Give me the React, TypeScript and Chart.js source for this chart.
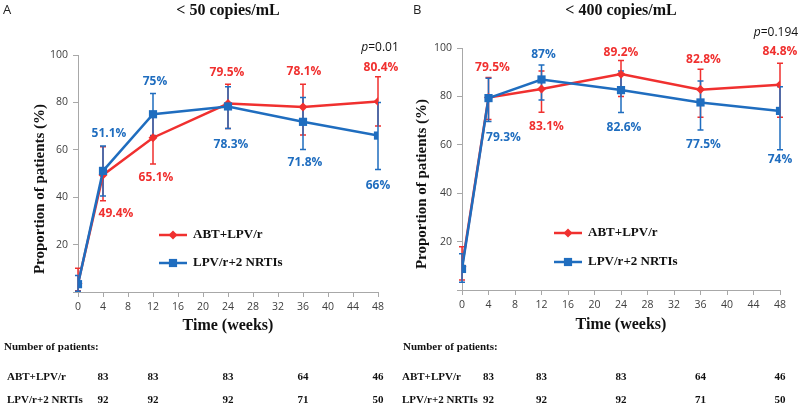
import React, { useEffect, useRef } from 'react';
import { Chart, registerables } from 'chart.js';

Chart.register(...registerables);

// ---------------- data ----------------
const weeks = [0, 4, 12, 24, 36, 48];
const seriesNames = ['ABT+LPV/r', 'LPV/r+2 NRTIs'];
const yTickValues = [0, 20, 40, 60, 80, 100];

// Panel A: < 50 copies/mL
const a50Abt = [3.6, 49.4, 65.1, 79.5, 78.1, 80.4];
const a50AbtLow = [0.5, 38.5, 54, 69, 66.2, 70];
const a50AbtHigh = [10, 61.3, 76, 87.7, 87.7, 90.8];
const a50Lpv = [3.3, 51.1, 75, 78.3, 71.8, 66];
const a50LpvLow = [0.3, 40.5, 66, 69, 60.1, 51.7];
const a50LpvHigh = [7, 61.6, 83.8, 86.6, 82.1, 80];

// Panel B: < 400 copies/mL
const b400Abt = [9.6, 79.5, 83.1, 89.2, 82.8, 84.8];
const b400AbtLow = [4.1, 70.5, 73.4, 80, 71.4, 71.4];
const b400AbtHigh = [17.9, 87.8, 90.5, 94.8, 91.2, 93.7];
const b400Lpv = [8.7, 79.3, 87, 82.6, 77.5, 74];
const b400LpvLow = [3.2, 69.6, 78.5, 73.3, 66.1, 58];
const b400LpvHigh = [15, 87.5, 93, 90.5, 86.4, 84];

// Number of patients table
const tableWeeks = [4, 12, 24, 36, 48];
const nAbt = [83, 83, 83, 64, 46];
const nLpv = [92, 92, 92, 71, 50];

// ---------------- styles ----------------
const RED = '#f0302f';
const BLUE = '#1f6dbf';
const AXIS = '#a8a8a8';
const TICK_TEXT = '#404040';
const SERIF = '"Liberation Serif", "Times New Roman", serif';
const SANS = '"Open Sans", "Liberation Sans", sans-serif';

type Off = [number, number];
interface PanelSpec {
  offset: number;
  letter: string;
  letterX: number;
  title: string;
  pText: string;
  pX: number;
  pY: number;
  left: number;
  top: number;
  right: number;
  bottom: number;
  yTitleX: number;
  yTitleY: number;
  xTitleY: number;
  legendX1: number;
  legendX2: number;
  legendTextX: number;
  legendY: [number, number];
  tableHeaderX: number;
  tableRowX: number;
  tableY: [number, number, number];
  values: [number[], number[]];
  lows: [number[], number[]];
  highs: [number[], number[]];
  labelOffsets: [Off[], Off[]];
}

const panelA: PanelSpec = {
  offset: 0,
  letter: 'A',
  letterX: 3,
  title: '< 50 copies/mL',
  pText: '0.01',
  pX: 380,
  pY: 48,
  left: 78,
  top: 55,
  right: 378,
  bottom: 292,
  yTitleX: 40,
  yTitleY: 189,
  xTitleY: 326,
  legendX1: 159,
  legendX2: 187,
  legendTextX: 193,
  legendY: [235, 263],
  tableHeaderX: 4,
  tableRowX: 7,
  tableY: [347, 377, 400],
  values: [a50Abt, a50Lpv],
  lows: [a50AbtLow, a50LpvLow],
  highs: [a50AbtHigh, a50LpvHigh],
  labelOffsets: [
    [[0, 0], [13, 39], [3, 40], [-1, -31], [1, -35], [3, -34]],
    [[0, 0], [6, -37], [2, -33], [3, 38], [2, 41], [0, 50]],
  ],
};

const panelB: PanelSpec = {
  offset: 400,
  letter: 'B',
  letterX: 13,
  title: '< 400 copies/mL',
  pText: '0.194',
  pX: 376,
  pY: 33,
  left: 62,
  top: 48,
  right: 380,
  bottom: 290,
  yTitleX: 22,
  yTitleY: 184,
  xTitleY: 325,
  legendX1: 154,
  legendX2: 182,
  legendTextX: 188,
  legendY: [233, 262],
  tableHeaderX: 3,
  tableRowX: 2,
  tableY: [347, 377, 400],
  values: [b400Abt, b400Lpv],
  lows: [b400AbtLow, b400LpvLow],
  highs: [b400AbtHigh, b400LpvHigh],
  labelOffsets: [
    [[0, 0], [4, -30], [5, 38], [0, -22], [3, -30], [0, -33]],
    [[0, 0], [15, 39], [2, -25], [3, 37], [3, 42], [0, 49]],
  ],
};

const COLORS = [RED, BLUE];
const X_AXIS_H = 30;

function drawMarker(ctx: CanvasRenderingContext2D, kind: number, x: number, y: number) {
  ctx.beginPath();
  if (kind === 0) {
    const r = 4.5;
    ctx.moveTo(x - r, y);
    ctx.lineTo(x, y - r);
    ctx.lineTo(x + r, y);
    ctx.lineTo(x, y + r);
    ctx.closePath();
  } else {
    const h = 4.1;
    ctx.rect(x - h, y - h, 2 * h, 2 * h);
  }
  ctx.fill();
}

function makePlugin(spec: PanelSpec) {
  return {
    id: 'panelDecor',
    beforeDatasetsDraw(chart: any) {
      const ctx: CanvasRenderingContext2D = chart.ctx;
      const ys = chart.scales.y;
      ctx.save();
      for (let di = 0; di < 2; di++) {
        const meta = chart.getDatasetMeta(di);
        ctx.strokeStyle = COLORS[di];
        ctx.lineWidth = 1.5;
        meta.data.forEach((pt: any, i: number) => {
          const x = pt.x;
          const yl = ys.getPixelForValue(spec.lows[di][i]);
          const yh = ys.getPixelForValue(spec.highs[di][i]);
          ctx.beginPath();
          ctx.moveTo(x, yl);
          ctx.lineTo(x, yh);
          ctx.moveTo(x - 3, yl);
          ctx.lineTo(x + 3, yl);
          ctx.moveTo(x - 3, yh);
          ctx.lineTo(x + 3, yh);
          ctx.stroke();
        });
      }
      ctx.restore();
    },
    afterDatasetsDraw(chart: any) {
      const ctx: CanvasRenderingContext2D = chart.ctx;
      ctx.save();
      ctx.font = `bold 12px ${SANS}`;
      ctx.textAlign = 'center';
      ctx.textBaseline = 'middle';
      for (let di = 0; di < 2; di++) {
        const meta = chart.getDatasetMeta(di);
        ctx.fillStyle = COLORS[di];
        meta.data.forEach((pt: any, i: number) => {
          if (i === 0) return;
          const [dx, dy] = spec.labelOffsets[di][i];
          ctx.fillText(`${spec.values[di][i]}%`, pt.x + dx, pt.y + dy);
        });
      }
      ctx.restore();
    },
    afterDraw(chart: any) {
      const ctx: CanvasRenderingContext2D = chart.ctx;
      const area = chart.chartArea;
      const xs = chart.scales.x;
      const cx = (area.left + area.right) / 2;
      ctx.save();
      // panel letter
      ctx.fillStyle = '#222';
      ctx.font = `13px ${SANS}`;
      ctx.textAlign = 'left';
      ctx.textBaseline = 'middle';
      ctx.fillText(spec.letter, spec.letterX, 10);
      // title
      ctx.fillStyle = '#111';
      ctx.font = `bold 16px ${SERIF}`;
      ctx.textAlign = 'center';
      ctx.fillText(spec.title, cx, 11);
      // x title
      ctx.font = `bold 16px ${SERIF}`;
      ctx.fillText('Time (weeks)', cx, spec.xTitleY);
      // y title
      ctx.save();
      ctx.translate(spec.yTitleX, spec.yTitleY);
      ctx.rotate(-Math.PI / 2);
      ctx.font = `bold 15px ${SERIF}`;
      ctx.fillText('Proportion of patients (%)', 0, 0);
      ctx.restore();
      // p value
      ctx.font = `italic 12px ${SANS}`;
      const pW = ctx.measureText('p').width;
      ctx.font = `12px ${SANS}`;
      const restW = ctx.measureText('=' + spec.pText).width;
      const startX = spec.pX - (pW + restW) / 2;
      ctx.textAlign = 'left';
      ctx.fillStyle = '#111';
      ctx.font = `italic 12px ${SANS}`;
      ctx.fillText('p', startX, spec.pY);
      ctx.font = `12px ${SANS}`;
      ctx.fillText('=' + spec.pText, startX + pW, spec.pY);
      // legend
      for (let di = 0; di < 2; di++) {
        const y = spec.legendY[di];
        ctx.strokeStyle = COLORS[di];
        ctx.fillStyle = COLORS[di];
        ctx.lineWidth = 2.5;
        ctx.beginPath();
        ctx.moveTo(spec.legendX1, y);
        ctx.lineTo(spec.legendX2, y);
        ctx.stroke();
        drawMarker(ctx, di, (spec.legendX1 + spec.legendX2) / 2, y);
        ctx.fillStyle = '#111';
        ctx.font = `bold 13px ${SERIF}`;
        ctx.textAlign = 'left';
        ctx.textBaseline = 'middle';
        ctx.fillText(seriesNames[di], spec.legendTextX, y);
      }
      // table
      ctx.fillStyle = '#111';
      ctx.font = `bold 11px ${SERIF}`;
      ctx.textAlign = 'left';
      ctx.fillText('Number of patients:', spec.tableHeaderX, spec.tableY[0]);
      ctx.fillText(seriesNames[0], spec.tableRowX, spec.tableY[1]);
      ctx.fillText(seriesNames[1], spec.tableRowX, spec.tableY[2]);
      ctx.textAlign = 'center';
      tableWeeks.forEach((w, i) => {
        const x = xs.getPixelForValue(w);
        ctx.fillText(String(nAbt[i]), x, spec.tableY[1]);
        ctx.fillText(String(nLpv[i]), x, spec.tableY[2]);
      });
      ctx.restore();
    },
  };
}

function makeConfig(spec: PanelSpec): any {
  const W = 400;
  const H = 405;
  return {
    type: 'line',
    data: {
      datasets: [0, 1].map((di) => ({
        label: seriesNames[di],
        data: weeks.map((w, i) => ({ x: w, y: spec.values[di][i] })),
        borderColor: COLORS[di],
        backgroundColor: COLORS[di],
        borderWidth: 2.5,
        pointStyle: di === 0 ? 'rectRot' : 'rect',
        pointRadius: di === 0 ? 4.5 : 5.8,
        pointBorderWidth: 0,
        tension: 0,
        fill: false,
        order: di === 0 ? 1 : 0,
      })),
    },
    options: {
      animation: false,
      responsive: false,
      devicePixelRatio: 1,
      layout: {
        padding: {
          left: 0,
          top: spec.top,
          right: W - spec.right,
          bottom: H - spec.bottom - X_AXIS_H,
        },
      },
      plugins: {
        legend: { display: false },
        tooltip: { enabled: false },
        title: { display: false },
      },
      scales: {
        x: {
          type: 'linear',
          min: 0,
          max: 48,
          ticks: {
            stepSize: 4,
            color: TICK_TEXT,
            font: { family: SANS, size: 10.5 },
            padding: 4,
            maxRotation: 0,
          },
          grid: { drawOnChartArea: false, drawTicks: true, tickLength: 5, color: AXIS },
          border: { display: true, color: AXIS, width: 1 },
          afterFit: (s: any) => {
            s.height = X_AXIS_H;
          },
        },
        y: {
          type: 'linear',
          min: 0,
          max: 100,
          afterBuildTicks: (s: any) => {
            s.ticks = yTickValues.map((v) => ({ value: v }));
          },
          ticks: {
            color: TICK_TEXT,
            font: { family: SANS, size: 10.5 },
            padding: 5,
            callback: (v: number) => (v === 0 ? '' : String(v)),
          },
          grid: { drawOnChartArea: false, drawTicks: true, tickLength: 5, color: AXIS },
          border: { display: true, color: AXIS, width: 1 },
          afterFit: (s: any) => {
            s.width = spec.left;
          },
        },
      },
    },
    plugins: [makePlugin(spec)],
  };
}

function Panel({ spec }: { spec: PanelSpec }) {
  const ref = useRef<HTMLCanvasElement>(null);
  useEffect(() => {
    const chart = new Chart(ref.current as HTMLCanvasElement, makeConfig(spec));
    return () => chart.destroy();
  }, [spec]);
  return (
    <canvas
      ref={ref}
      width={400}
      height={405}
      style={{ position: 'absolute', left: spec.offset, top: 0, width: 400, height: 405 }}
    />
  );
}

export default function App() {
  return (
    <div
      style={{
        position: 'fixed',
        left: 0,
        top: 0,
        width: 800,
        height: 405,
        background: '#ffffff',
        overflow: 'hidden',
      }}
    >
      <Panel spec={panelA} />
      <Panel spec={panelB} />
    </div>
  );
}
